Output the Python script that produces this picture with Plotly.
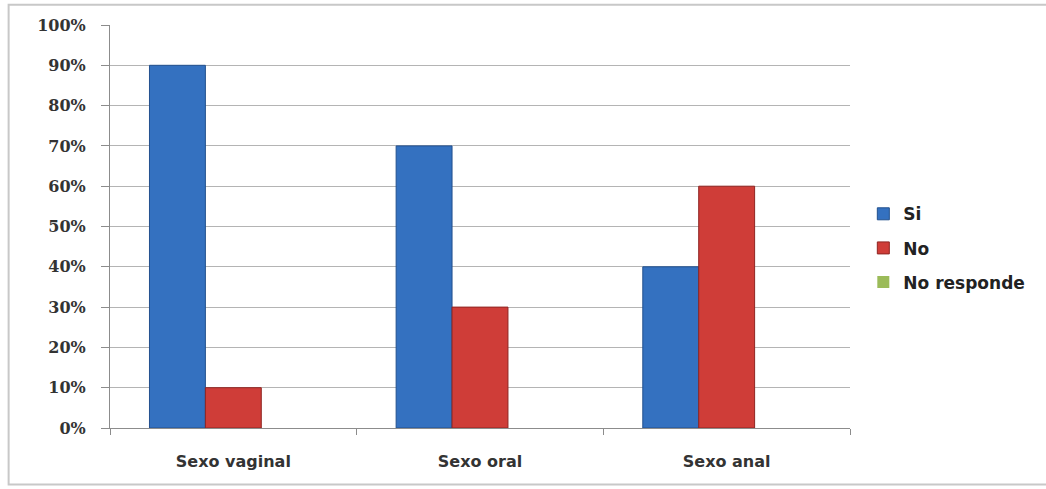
import plotly.graph_objects as go

categories = ["Sexo vaginal", "Sexo oral", "Sexo anal"]
si = [0.90, 0.70, 0.40]
no = [0.10, 0.30, 0.60]
no_responde = [0.0, 0.0, 0.0]
y_ticks = [i / 10 for i in range(11)]
y_tick_labels = [f"{i * 10}%" for i in range(11)]

series = [
    ("Si", si, "#3471c0", "#22508e", 1),
    ("No", no, "#cf3d38", "#8f2522", 1),
    ("No responde", no_responde, "#9bbb59", "#6f8a3a", 0),
]

fig = go.Figure()
for i, (name, vals, fill, edge, lw) in enumerate(series):
    fig.add_trace(go.Bar(
        x=categories, y=vals, name=name, legendgroup=f"g{i}",
        marker=dict(color=fill, line=dict(color=edge, width=lw)),
    ))

fig.update_layout(
    width=1046, height=489,
    margin=dict(l=110, r=196, t=25, b=61),
    paper_bgcolor="white", plot_bgcolor="white",
    barmode="group", bargap=0.32, bargroupgap=0,
    legend=dict(
        x=1.018, y=0.446, xanchor="left", yanchor="middle",
        font=dict(family="DejaVu Sans", size=17, color="#222", weight="bold"),
        tracegroupgap=9, itemwidth=30,
    ),
    font=dict(family="DejaVu Sans", color="#333"),
    shapes=[dict(type="rect", xref="paper", yref="paper",
                 x0=-0.137, x1=1.32, y0=-0.14, y1=1.05,
                 line=dict(color="#c8c8c8", width=2))],
)

fig.update_yaxes(
    range=[0, 1], tickvals=y_ticks, ticktext=y_tick_labels,
    showgrid=True, gridcolor="#b4b4b4", gridwidth=1,
    showline=True, linecolor="#8c8c8c", linewidth=1,
    ticks="outside", ticklen=8, tickcolor="#8c8c8c",
    tickfont=dict(family="DejaVu Serif", size=16, color="#333", weight="bold"),
    ticklabelstandoff=12,
    zeroline=False,
)
fig.update_xaxes(
    showline=True, linecolor="#8c8c8c", linewidth=1,
    ticks="outside", tickson="boundaries", ticklen=6, tickcolor="#8c8c8c",
    tickfont=dict(family="DejaVu Sans", size=16, color="#333", weight="bold"),
    ticklabelstandoff=19,
)

fig.write_html("out.html")
